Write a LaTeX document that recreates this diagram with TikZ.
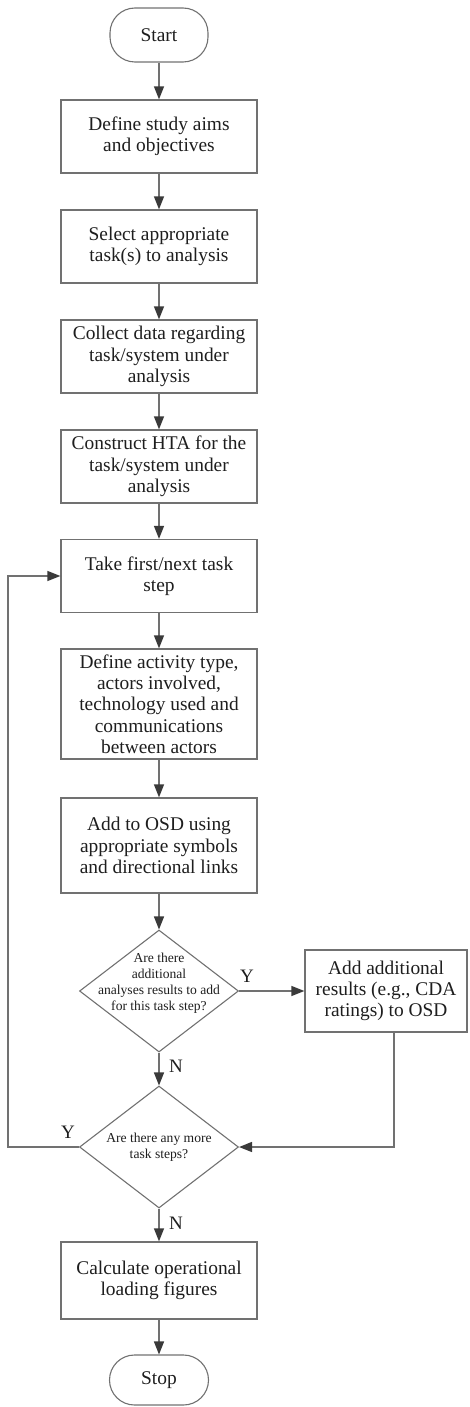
\documentclass[tikz,border=0pt]{standalone}
\usepackage{fontspec}
\setmainfont{Liberation Serif}
\usetikzlibrary{arrows.meta,shapes.geometric}
\definecolor{linegray}{HTML}{717171}
\definecolor{tipgray}{HTML}{3A3A3A}
\definecolor{inkgray}{HTML}{1E1E1E}
\begin{document}
\begin{tikzpicture}[x=1pt,y=-1pt,
  box/.style={draw=linegray, line width=1.3pt, fill=white, minimum width=196pt,
    align=center, inner sep=0pt, text=inkgray, font=\fontsize{19.4}{21.3}\selectfont},
  term/.style={draw=linegray, line width=1.1pt, rounded corners=25pt, minimum width=98pt,
    minimum height=54pt, inner sep=0pt, text=inkgray, font=\fontsize{19.4}{21.3}\selectfont},
  dia/.style={draw=linegray, line width=1.1pt, diamond, minimum width=159pt,
    minimum height=122pt, inner sep=0pt},
  dtext/.style={text=inkgray, align=center, inner sep=0pt, font=\fontsize{13.6}{16}\selectfont},
  flow/.style={draw=linegray, line width=1.4pt, -{Triangle[length=13pt,width=10pt,color=tipgray]}},
  yn/.style={text=inkgray, inner sep=0pt, font=\fontsize{19}{21}\selectfont}]

\useasboundingbox (0,0) rectangle (469,1407);

% main column
\node[term] (start) at (159,35) {Start};
\node[box, minimum height=73pt] (b1) at (159,136.5) {Define study aims\\and objectives};
\node[box, minimum height=73pt] (b2) at (159,246.5) {Select appropriate\\task(s) to analysis};
\node[box, minimum height=73pt] (b3) at (159,356.5) {Collect data regarding\\task/system under\\analysis};
\node[box, minimum height=73pt] (b4) at (159,466.5) {Construct HTA for the\\task/system under\\analysis};
\node[box, minimum height=73pt] (b5) at (159,576) {Take first/next task\\step};
\node[box, minimum height=110pt] (b6) at (159,704) {Define activity type,\\actors involved,\\technology used and\\communications\\between actors};
\node[box, minimum height=95pt] (b7) at (159,845.5) {Add to OSD using\\appropriate symbols\\and directional links};

% decisions
\node[dia] (d1) at (159,991) {};
\node[dtext] (d1t) at (159,983) {Are there\\additional\\analyses results to add\\for this task step?};
\node[box, minimum width=162pt, minimum height=82pt] (rb) at (386,991) {Add additional\\results (e.g., CDA\\ratings) to OSD};

\node[dia] (d2) at (159,1147) {};
\node[dtext] (d2t) at (159,1147) {Are there any more\\task steps?};

\node[box, minimum height=77pt] (b8) at (159,1280.5) {Calculate operational\\loading figures};
\node[term, minimum width=99pt, minimum height=50pt] (stop) at (159,1380) {Stop};

% connectors
\draw[flow] (start) -- (b1);
\draw[flow] (b1) -- (b2);
\draw[flow] (b2) -- (b3);
\draw[flow] (b3) -- (b4);
\draw[flow] (b4) -- (b5);
\draw[flow] (b5) -- (b6);
\draw[flow] (b6) -- (b7);
\draw[flow] (b7) -- (d1.north);
\draw[flow] (d1.east) -- (d1.east -| rb.west);
\draw[flow] (d1.south) -- (d2.north);
\draw[flow] ([xshift=8pt]rb.south) |- (d2.east);
\coordinate (loopx) at (8,1147);
\draw[flow] (d2.west) -- (d2.west -| loopx) |- (b5.west);
\draw[flow] (d2.south) -- (b8);
\draw[flow] (b8) -- (stop);

% branch labels
\node[yn] (y1) at (247,976) {Y};
\node[yn] (n1) at (176,1066) {N};
\node[yn] (y2) at (68,1132) {Y};
\node[yn] (n2) at (176,1223) {N};
\end{tikzpicture}
\end{document}
